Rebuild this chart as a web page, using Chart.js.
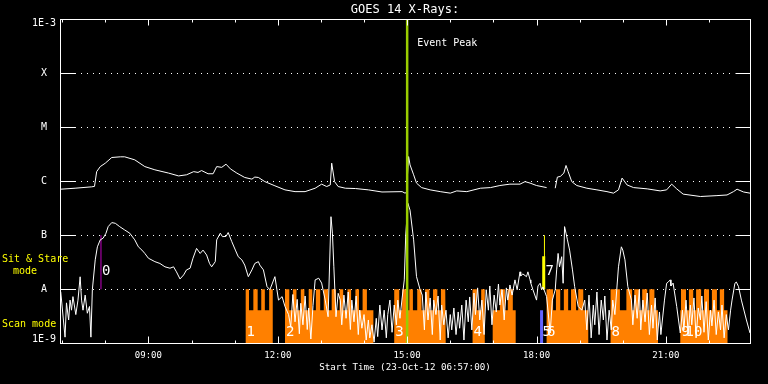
<!DOCTYPE html>
<html><head><meta charset="utf-8">
<script src="https://cdn.jsdelivr.net/npm/chart.js@4"></script>
<style>html,body{margin:0;padding:0;background:#000;overflow:hidden}canvas{display:block}</style>
</head><body>
<canvas id="c" width="768" height="384"></canvas>
<script>
// ---------- data ----------
const startTime = '06:57', endTime = '22:57';
const xTickHours = [9, 12, 15, 18, 21];
const minorHours = [7, 8, 9, 10, 11, 12, 13, 14, 15, 16, 17, 18, 19, 20, 21, 22];
const yTickValues = [1e-9, 1e-8, 1e-7, 1e-6, 1e-5, 1e-4, 1e-3];
const yTickLabels = ['1E-9', 'A', 'B', 'C', 'M', 'X', '1E-3'];

// GOES 14 long channel (1-8 A)
const longTimes = ['06:58','07:18','07:41','07:45','07:48','07:53','08:00','08:09','08:21','08:27',
 '08:41','08:55','09:09','09:28','09:42','09:53','10:03','10:09','10:14','10:23',
 '10:30','10:35','10:42','10:48','10:54','11:03','11:14','11:24','11:28','11:33',
 '11:42','11:56','12:10','12:24','12:38','12:52','13:01','13:08','13:13','13:15',
 '13:19','13:24','13:34','13:48','14:06','14:25','14:53','14:57','14:59','15:02',
 '15:04','15:09','15:13','15:20','15:32','15:46','16:00','16:09','16:23','16:42',
 '16:56','17:09','17:23','17:37','17:44','17:51','18:00','18:14','18:20','18:26',
 '18:29','18:33','18:38','18:41','18:44','18:49','18:56','19:10','19:24','19:38',
 '19:47','19:54','19:59','20:06','20:15','20:34','20:52','21:01','21:08','21:15',
 '21:24','21:48','22:11','22:25','22:34','22:39','22:48','22:57'];
const longFlux = [7.1e-7,7.4e-7,7.85e-7,8.0e-7,1.5e-6,1.86e-6,2.15e-6,2.74e-6,2.82e-6,2.82e-6,
 2.48e-6,1.86e-6,1.62e-6,1.41e-6,1.25e-6,1.31e-6,1.5e-6,1.45e-6,1.57e-6,1.37e-6,
 1.37e-6,1.86e-6,1.8e-6,2.06e-6,1.69e-6,1.41e-6,1.17e-6,1.09e-6,1.19e-6,1.17e-6,
 9.8e-7,8.2e-7,6.9e-7,6.4e-7,6.4e-7,7.4e-7,8.8e-7,7.95e-7,8.5e-7,2.15e-6,
 9.8e-7,7.95e-7,7.4e-7,7.3e-7,6.9e-7,6.3e-7,6.4e-7,6.0e-7,6.2e-7,2.85e-6,
 2.0e-6,1.31e-6,9.2e-7,7.6e-7,6.9e-7,6.4e-7,6.0e-7,6.6e-7,6.4e-7,7.4e-7,
 7.6e-7,8.3e-7,8.8e-7,8.8e-7,9.8e-7,9.2e-7,8.3e-7,7.6e-7,null,7.4e-7,
 1.19e-6,1.22e-6,1.41e-6,1.95e-6,1.5e-6,9.8e-7,8.3e-7,7.4e-7,6.9e-7,6.4e-7,
 6.0e-7,6.9e-7,1.14e-6,8.5e-7,7.6e-7,7.2e-7,6.6e-7,6.9e-7,8.8e-7,7.2e-7,
 5.75e-7,5.2e-7,5.4e-7,5.55e-7,6.4e-7,7.1e-7,6.3e-7,6.0e-7];

// GOES 14 short channel (0.5-4 A)
const shortTimes = [
 '06:58','07:04','07:06','07:09','07:11','07:13','07:15','07:19','07:22','07:25',
 '07:27','07:29','07:32','07:35','07:38','07:40','07:42','07:46','07:49','07:53',
 '07:57','08:01','08:04','08:09','08:14','08:20','08:27','08:34','08:41','08:46',
 '08:51','08:55','09:00','09:09','09:16','09:23','09:30','09:35','09:39','09:44',
 '09:49','09:53','09:58','10:02','10:07','10:12','10:16','10:21','10:25','10:28',
 '10:33','10:35','10:40','10:43','10:48','10:51','10:56','11:01','11:05','11:10',
 '11:14','11:19','11:24','11:28','11:33','11:35','11:40','11:45','11:49','11:56',
 '12:01','12:06','12:10','12:15','12:18','12:21','12:24','12:27','12:30','12:32',
 '12:35','12:38','12:41','12:43','12:46','12:49','12:52','12:57','13:01','13:06',
 '13:10','13:14','13:16','13:18','13:21','13:24','13:27','13:29','13:32','13:35',
 '13:38','13:41','13:43','13:46','13:49','13:52','13:54','13:57','14:00','14:03',
 '14:06','14:08','14:11','14:14','14:17','14:19','14:22','14:25','14:28','14:31',
 '14:33','14:36','14:39','14:42','14:45','14:47','14:50','14:53','14:56','14:58',
 '15:01','15:04','15:09','15:13','15:18','15:21','15:24','15:26','15:29','15:32',
 '15:35','15:37','15:40','15:43','15:46','15:48','15:51','15:54','15:57','16:00',
 '16:02','16:05','16:08','16:11','16:13','16:16','16:19','16:22','16:25','16:27',
 '16:30','16:33','16:35','16:38','16:41','16:44','16:47','16:50','16:53','16:55',
 '16:58','17:01','17:04','17:07','17:09','17:12','17:15','17:18','17:20','17:23',
 '17:26','17:30','17:33','17:37','17:38','17:41','17:46','17:48','17:51','17:52',
 '17:55','18:00','18:02','18:05','18:07','18:09','18:14','18:19','18:22','18:26',
 '18:28','18:30','18:32','18:35','18:37','18:39','18:41','18:43','18:46','18:50',
 '18:53','18:58','19:03','19:07','19:10','19:13','19:16','19:19','19:21','19:24',
 '19:27','19:30','19:33','19:35','19:38','19:41','19:44','19:46','19:49','19:54',
 '19:58','20:00','20:03','20:07','20:12','20:14','20:17','20:20','20:23','20:25',
 '20:28','20:31','20:34','20:37','20:40','20:42','20:45','20:48','20:51','20:53',
 '20:58','21:01','21:03','21:06','21:07','21:10','21:15','21:20','21:23','21:25',
 '21:28','21:31','21:34','21:36','21:39','21:42','21:45','21:48','21:50','21:53',
 '21:56','21:59','22:02','22:04','22:07','22:10','22:13','22:16','22:18','22:21',
 '22:24','22:27','22:30','22:32','22:36','22:38','22:41','22:45','22:52','22:57'];
const shortFlux = [
 9.0e-9,1.3e-9,5.6e-9,2.7e-9,6.3e-9,4.1e-9,7.3e-9,3.4e-9,6.3e-9,1.7e-8,
 6.3e-9,4.1e-9,7.8e-9,3.6e-9,4.8e-9,1.3e-9,9.8e-9,3.5e-8,6.1e-8,8.2e-8,
 8.8e-8,1.09e-7,1.44e-7,1.71e-7,1.66e-7,1.44e-7,1.25e-7,1.09e-7,8.2e-8,6.1e-8,
 5.3e-8,4.6e-8,3.75e-8,3.24e-8,3.0e-8,2.6e-8,2.45e-8,2.6e-8,2.1e-8,1.55e-8,
 1.84e-8,2.28e-8,2.45e-8,3.75e-8,5.7e-8,4.6e-8,5.3e-8,4.3e-8,3.0e-8,2.6e-8,
 3.24e-8,8.2e-8,1.09e-7,9.4e-8,9.5e-8,1.12e-7,7.6e-8,5.3e-8,4.0e-8,3.5e-8,
 2.8e-8,1.71e-8,2.28e-8,3.0e-8,3.24e-8,2.8e-8,2.28e-8,1.12e-8,9.8e-9,1.71e-8,
 6.3e-9,7.3e-9,4.8e-9,3.4e-9,2.0e-9,8.0e-9,2.5e-9,6.5e-9,1.5e-9,5.5e-9,
 2.2e-9,7.5e-9,1.8e-9,4.5e-9,1.2e-9,5.0e-9,1.49e-8,1.6e-8,1.3e-8,6.3e-9,
 3.1e-9,2.2e-7,1.09e-7,2.6e-8,3.1e-9,8.4e-9,6.3e-9,2.2e-9,7.8e-9,2.9e-9,
 8.9e-9,1.8e-9,6.3e-9,2.5e-9,7.5e-9,1.45e-9,4.1e-9,1.9e-9,3.4e-9,1.15e-9,
 2.7e-9,1.26e-9,2.2e-9,1.05e-9,2.9e-9,1.33e-9,5.1e-9,1.77e-9,4.1e-9,1.26e-9,
 3.4e-9,6.3e-9,1.6e-9,5.1e-9,2.2e-9,6.3e-9,2.9e-9,6.9e-9,1.49e-8,1.0e-7,
 3.9e-7,2.9e-7,8.2e-8,1.71e-8,9.8e-9,7.8e-9,1.77e-9,8.9e-9,2.7e-9,6.9e-9,
 1.45e-9,6.3e-9,3.4e-9,7.5e-9,1.15e-9,5.1e-9,2.2e-9,4.1e-9,1.26e-9,3.4e-9,
 1.77e-9,4.5e-9,1.45e-9,3.8e-9,1.9e-9,5.1e-9,1.15e-9,6.3e-9,2.5e-9,7.2e-9,
 1.77e-9,8.5e-9,3.4e-9,1.06e-8,2.7e-9,6.3e-9,1.45e-9,9.8e-9,4.1e-9,1.15e-8,
 2.2e-9,7.8e-9,3.8e-9,1.25e-8,5.1e-9,9.8e-9,2.7e-9,1.06e-8,6.3e-9,1.2e-8,
 7.8e-9,1.49e-8,9.8e-9,2.1e-8,1.76e-8,1.92e-8,1.71e-8,2.1e-8,1.49e-8,1.3e-8,
 9.8e-9,6.3e-9,1.15e-8,1.29e-8,9.8e-9,1.1e-8,7.3e-9,1.55e-9,6.3e-9,9.8e-9,
 2.28e-8,4.6e-8,2.6e-8,4.0e-8,1.29e-8,1.44e-7,1.09e-7,8.2e-8,5.3e-8,2.28e-8,
 1.12e-8,4.8e-9,4.1e-9,6.3e-9,1.77e-9,7.8e-9,1.26e-9,5.1e-9,2.2e-9,8.9e-9,
 1.45e-9,6.3e-9,2.7e-9,7.5e-9,1.15e-9,4.1e-9,1.77e-9,6.3e-9,3.4e-9,2.6e-8,
 6.1e-8,5.3e-8,3.5e-8,1.12e-8,6.3e-9,2.2e-9,7.8e-9,2.9e-9,9.8e-9,1.77e-9,
 6.3e-9,2.5e-9,8.5e-9,1.45e-9,5.1e-9,1.9e-9,6.9e-9,1.15e-9,3.8e-9,1.45e-9,
 6.3e-9,1.29e-8,1.35e-8,1.49e-8,1.15e-8,1.3e-8,4.8e-9,1.55e-9,4.1e-9,1.77e-9,
 6.3e-9,1.45e-9,5.1e-9,2.2e-9,6.9e-9,1.26e-9,4.5e-9,2.7e-9,7.5e-9,1.6e-9,
 5.9e-9,1.15e-9,4.1e-9,2.1e-9,6.3e-9,1.45e-9,3.8e-9,1.77e-9,5.1e-9,1.26e-9,
 3.4e-9,1.77e-9,4.1e-9,6.3e-9,1.29e-8,1.36e-8,1.12e-8,6.3e-9,2.7e-9,1.55e-9];

// Scan-mode intervals (orange) and their raster spikes
const scanStarts = ['11:15','12:10','14:42','16:31','16:59','18:14','19:43','21:20'];
const scanEnds   = ['11:53','14:13','15:54','16:48','17:31','19:12','20:49','22:26'];
const spikeStarts = ['11:15','11:26','11:37','11:48',
 '12:10','12:21','12:32','12:43','12:53','13:04','13:15','13:26','13:37','13:48','13:58',
 '14:42','14:53','15:03','15:14','15:25','15:36','15:47',
 '16:31','16:43','17:09','17:20',
 '18:14','18:27','18:38','18:48','18:58',
 '19:43','20:05','20:16','20:27','20:37',
 '21:21','21:32','21:42','21:53','22:04','22:15'];
const spikeEnds = ['11:20','11:32','11:42','11:53',
 '12:16','12:26','12:37','12:48','12:59','13:10','13:21','13:31','13:42','13:53','14:04',
 '14:49','14:59','15:08','15:20','15:31','15:42','15:53',
 '16:37','16:48','17:16','17:27',
 '18:23','18:33','18:44','18:55','19:05',
 '19:56','20:13','20:23','20:34','20:44',
 '21:28','21:38','21:49','22:00','22:11','22:21'];
const scanFloor = 1e-9, scanLow = 4.1e-9, scanHigh = 1e-8;

// event markers
const eventPeakTime = '15:00';
const sitStareTime = '07:54';
const yellowLineTime = '18:11', yellowBarTime = '18:10', yellowBarTop = 4.1e-8;
const blueBarTime = '18:07';

// numbered annotations
const labelTexts  = ['0','1','2','3','4','5','6','7','8','9','10'];
const labelTimes  = ['07:54','11:15','12:10','14:42','16:31','18:07','18:13','18:11','19:43','21:20','21:26'];
const labelLevels = [2.1e-8,1.57e-9,1.57e-9,1.57e-9,1.57e-9,1.57e-9,1.57e-9,2.1e-8,1.57e-9,1.57e-9,1.57e-9];

// ---------- build ----------
const hr = s => { const [h, m] = s.split(':').map(Number); return h + m / 60; };
const series = (ts, vs) => ts.map((t, i) => ({x: hr(t), y: vs[i]}));

const scanPts = [];
scanStarts.forEach((s, i) => {
  const b0 = hr(s), b1 = hr(scanEnds[i]);
  scanPts.push({x: b0, y: scanFloor}, {x: b0, y: scanLow});
  spikeStarts.forEach((p, j) => {
    const p0 = hr(p), p1 = hr(spikeEnds[j]);
    if (p0 >= b0 && p1 <= b1) {
      scanPts.push({x: p0, y: scanLow}, {x: p0, y: scanHigh}, {x: p1, y: scanHigh}, {x: p1, y: scanLow});
    }
  });
  scanPts.push({x: b1, y: scanLow}, {x: b1, y: scanFloor});
});

const vline = (t, lo, hi) => [{x: hr(t), y: lo}, {x: hr(t), y: hi}];

Chart.defaults.font.family = '"DejaVu Sans Mono", monospace';
Chart.defaults.color = '#ffffff';

const frame = {
  id: 'goesFrame',
  beforeDraw(c) {
    const g = c.ctx; g.save(); g.fillStyle = '#000'; g.fillRect(0, 0, c.width, c.height); g.restore();
  },
  beforeDatasetsDraw(c) {
    const g = c.ctx, a = c.chartArea, y = c.scales.y;
    g.save(); g.strokeStyle = '#fff'; g.lineWidth = 1; g.setLineDash([1, 5]);
    yTickValues.slice(1, -1).forEach(v => {
      const p = Math.round(y.getPixelForValue(v)) + 0.5;
      g.beginPath(); g.moveTo(a.left + 15, p); g.lineTo(a.right - 15, p); g.stroke();
    });
    g.restore();
  },
  afterDatasetsDraw(c) {
    const g = c.ctx, a = c.chartArea, x = c.scales.x, y = c.scales.y;
    g.save();
    g.strokeStyle = '#fff'; g.lineWidth = 1;
    const L = Math.round(a.left) + 0.5, R = Math.round(a.right) + 0.5,
          T = Math.round(a.top) + 0.5, B = Math.round(a.bottom) + 0.5;
    g.strokeRect(L, T, R - L, B - T);
    g.beginPath();
    minorHours.forEach(h => {
      const p = Math.round(x.getPixelForValue(h)) + 0.5;
      const major = xTickHours.includes(h);
      g.moveTo(p, T); g.lineTo(p, T + (major ? 6 : 3));
      g.moveTo(p, B); g.lineTo(p, B - (major ? 7 : 3));
    });
    yTickValues.slice(1, -1).forEach(v => {
      const p = Math.round(y.getPixelForValue(v)) + 0.5;
      g.moveTo(L, p); g.lineTo(L + 15, p);
      g.moveTo(R - 15, p); g.lineTo(R, p);
    });
    g.stroke();

    // y labels
    g.fillStyle = '#fff'; g.font = '10px "DejaVu Sans Mono"';
    g.textAlign = 'center'; g.textBaseline = 'middle';
    yTickValues.forEach((v, i) => {
      let p = y.getPixelForValue(v);
      if (i === 0) p -= 3.5;
      if (i === yTickValues.length - 1) p += 4;
      g.fillText(yTickLabels[i], a.left - 16, p);
    });

    // mode labels
    const yA = y.getPixelForValue(1e-8);
    g.fillStyle = '#ffff00'; g.textAlign = 'left';
    g.fillText('Sit & Stare', 2, yA - 30);
    g.fillText('mode', 13, yA - 18);
    g.fillText('Scan mode', 2, yA + 35);

    // event peak label
    g.fillStyle = '#fff';
    g.fillText('Event Peak', x.getPixelForValue(hr(eventPeakTime)) + 10, a.top + 24);

    // numbered annotations
    g.font = '14px "DejaVu Sans Mono"';
    labelTexts.forEach((t, i) => {
      g.fillText(t, x.getPixelForValue(hr(labelTimes[i])) + 1, y.getPixelForValue(labelLevels[i]));
    });
    g.restore();
  }
};

const lineDs = (data, color, width, order) => ({
  data, borderColor: color, borderWidth: width, pointRadius: 0, fill: false, order, tension: 0
});

new Chart(document.getElementById('c'), {
  type: 'line',
  data: {
    datasets: [
      lineDs(vline(eventPeakTime, 1e-9, 1e-3), 'rgb(154,205,0)', 2.5, 0),
      lineDs(series(longTimes, longFlux), '#ffffff', 1, 2),
      lineDs(series(shortTimes, shortFlux), '#ffffff', 1, 2),
      lineDs(vline(sitStareTime, 1e-8, 1e-7), '#c000c0', 1, 3),
      lineDs(vline(yellowLineTime, 1e-8, 1e-7), '#ffff00', 1, 3),
      lineDs(vline(yellowBarTime, 1e-8, yellowBarTop), '#ffff00', 3, 3),
      lineDs(vline(blueBarTime, scanFloor, scanLow), '#6464ff', 3, 3),
      {data: scanPts, borderWidth: 0, borderColor: 'rgba(0,0,0,0)', backgroundColor: '#ff8000',
       fill: 'start', pointRadius: 0, tension: 0, order: 10}
    ]
  },
  options: {
    responsive: false, animation: false, devicePixelRatio: 1,
    layout: {padding: {left: 60, right: 18, top: 0, bottom: 10.48}},
    plugins: {
      legend: {display: false}, tooltip: {enabled: false},
      title: {display: true, text: 'GOES 14 X-Rays:', color: '#fff',
              font: {size: 12, weight: 'normal', lineHeight: 1.2}, padding: {top: 2.8, bottom: 1.8}}
    },
    scales: {
      x: {
        type: 'linear', min: hr(startTime), max: hr(endTime),
        afterBuildTicks(s) { s.ticks = xTickHours.map(v => ({value: v})); },
        afterFit(s) { s.height = 30.22; },
        ticks: {color: '#fff', font: {size: 9, lineHeight: 1.2}, padding: 6.8, maxRotation: 0, autoSkip: false,
                callback: v => String(v).padStart(2, '0') + ':00'},
        grid: {display: false, drawTicks: false, tickLength: 0},
        border: {display: false},
        title: {display: true, text: 'Start Time (23-Oct-12 06:57:00)', color: '#fff',
                font: {size: 9.2, lineHeight: 1.2}, padding: {top: 0, bottom: 0}}
      },
      y: {type: 'logarithmic', min: 1e-9, max: 1e-3, display: false}
    }
  },
  plugins: [frame]
});
</script>
</body></html>
